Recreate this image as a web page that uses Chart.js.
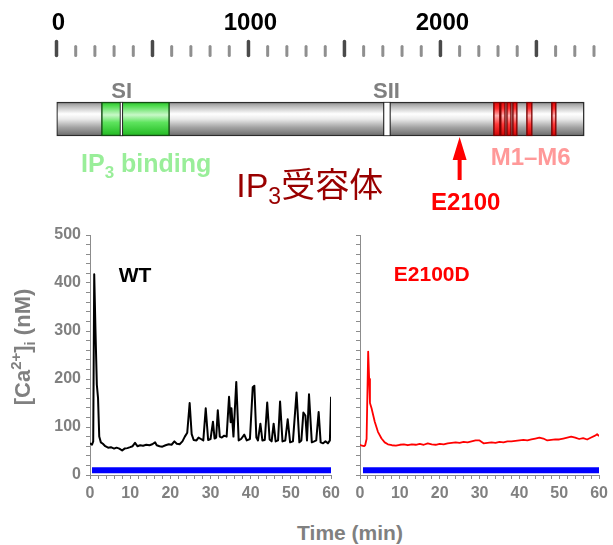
<!DOCTYPE html>
<html>
<head>
<meta charset="utf-8">
<script src="https://cdn.jsdelivr.net/npm/chart.js@4.4.0/dist/chart.umd.min.js"></script>
<style>
  body { margin: 0; background: #fff; }
  #wrap { position: relative; width: 613px; height: 545px; overflow: hidden; }
  canvas { position: absolute; }
  #topChart { left: 0; top: 0; }
  #wtChart { left: 0; top: 220px; }
  #mutChart { left: 345px; top: 220px; }
  #timeTitle {
    position: absolute; left: 250px; width: 200px; top: 521px;
    text-align: center; line-height: 21px; color: #808080;
    font: bold 21px 'Liberation Sans', Arial, sans-serif;
  }
</style>
</head>
<body>
<div id="wrap">
  <canvas id="topChart" width="613" height="215"></canvas>
  <canvas id="wtChart" width="345" height="290"></canvas>
  <canvas id="mutChart" width="268" height="290"></canvas>
  <div id="timeTitle">Time (min)</div>
</div>
<script>
"use strict"

// IP3 receptor map, amino-acid positions
const proteinLength = 2749;
const ip3Binding = [234, 589];
const siteSI = [330, 346];
const siteSII = [1703, 1740];
const tmSegments = [[2276, 2312], [2312, 2339], [2344, 2370], [2375, 2401], [2448, 2479], [2578, 2604]];
const mutationSite = 2100;

// [Ca2+]i traces (time in min, nM)
const wtTime = [0, 0.5, 0.8, 1.05, 1.35, 1.7, 2.0, 2.3, 2.7, 3.2, 3.8, 4.5, 5.2, 6.0, 6.6, 7.3, 8.0, 8.6, 9.3, 10.0,
  10.6, 11.2, 11.8, 12.5, 13.2, 14.0, 14.8, 15.5, 16.2, 16.6, 17.3, 18.0, 18.8, 19.6, 20.3, 21.0, 21.6, 22.3, 23.0, 23.6,
  24.2, 24.8, 25.3, 25.8, 26.5, 27.0, 27.6, 28.2, 28.8, 29.4, 30.0, 30.6, 31.0, 31.4, 31.8, 32.3, 32.8, 33.4, 34.0, 34.6,
  35.0, 35.2, 35.7, 36.4, 37.0, 37.6, 38.4, 39.0, 39.8, 40.5, 40.9, 41.4, 41.8, 42.4, 42.9, 43.5, 44.1, 44.7, 45.2, 45.7,
  46.2, 46.8, 47.3, 47.9, 48.6, 49.2, 49.8, 50.5, 51.4, 52.1, 52.6, 53.1, 53.6, 54.0, 54.5, 55.2, 55.8, 56.3, 56.9, 57.4,
  58.0, 58.6, 59.2, 59.7, 60.0];
const wtCa = [66, 63, 70, 418, 305, 188, 160, 80, 68, 65, 60, 57, 58, 55, 57, 55, 51, 55, 56, 58,
  60, 67, 60, 62, 61, 63, 62, 64, 68, 62, 60, 59, 62, 64, 63, 70, 65, 64, 70, 80,
  88, 150, 85, 73, 72, 78, 75, 72, 139, 73, 75, 111, 76, 78, 135, 80, 78, 82, 80, 163,
  110, 139, 80, 194, 72, 75, 84, 72, 75, 183, 186, 78, 72, 107, 72, 73, 151, 74, 70, 107,
  70, 72, 153, 70, 72, 116, 68, 70, 172, 68, 72, 130, 124, 72, 168, 68, 70, 72, 131, 68,
  66, 70, 66, 72, 163];

const mutTime = [0, 0.5, 1.0, 1.3, 1.65, 2.05, 2.3, 2.5, 2.9, 3.7, 4.5, 5.4, 6.2, 7.0, 8.0,
  9, 10, 11, 12, 13, 14, 15, 16, 17, 18, 19, 20, 21, 22, 23, 24, 25, 26, 27, 28, 29, 30, 31, 32, 33, 34,
  35, 36, 37, 38, 39, 40, 41, 42, 43, 44, 45, 46, 47, 48, 49, 50, 51, 52, 53, 54, 55, 56, 57, 58, 59, 59.5, 60];
const mutCa = [63, 61, 60, 62, 75, 257, 200, 150, 139, 111, 90, 76, 68, 64, 62,
  61, 63, 64, 62, 64, 63, 65, 63, 66, 64, 63, 65, 64, 66, 67, 68, 67, 69, 68, 70, 72, 72, 66, 67, 68, 67,
  69, 68, 70, 70, 71, 72, 73, 72, 74, 76, 78, 76, 72, 73, 74, 74, 76, 78, 80, 78, 75, 77, 74, 78, 82, 85, 81];

// stimulation bar [start, end] in min, and its level in nM
const stimWT = [0.5, 60];
const stimMut = [0.75, 60];
const stimLevel = 10;

const fam = "'Liberation Sans', Arial, 'Noto Sans CJK JP', sans-serif";
Chart.defaults.font.family = fam;

const grayStops = [[0, '#8a8a8a'], [0.12, '#b8b8b8'], [0.35, '#ffffff'], [0.5, '#ebebeb'], [0.75, '#a2a2a2'], [1, '#6a6a6a']];
const greenStops = [[0, '#22c822'], [0.15, '#5ee05e'], [0.38, '#c8f8c8'], [0.6, '#5ee45e'], [1, '#1fb81f']];
const redStops = [[0, '#e00000'], [0.2, '#ff3030'], [0.4, '#ffb0b0'], [0.65, '#ff3a3a'], [1, '#d00000']];

function bandFill(stops) {
  return function (context) {
    const chart = context.chart;
    const area = chart.chartArea;
    if (!area || !isFinite(area.top) || !isFinite(area.bottom)) return stops[2][1];
    const c = (area.top + area.bottom) / 2;
    const g = chart.ctx.createLinearGradient(0, c - 17, 0, c + 17);
    stops.forEach(s => g.addColorStop(s[0], s[1]));
    return g;
  };
}

// draws text made of pieces (for sub/superscripts)
function drawRich(ctx, parts, x, y, align) {
  let width = 0;
  parts.forEach(p => {
    ctx.font = (p.weight || 'bold') + ' ' + p.size + 'px ' + fam;
    p.w = ctx.measureText(p.t).width;
    width += p.w;
  });
  let cx = align === 'center' ? x - width / 2 : x;
  parts.forEach(p => {
    ctx.font = (p.weight || 'bold') + ' ' + p.size + 'px ' + fam;
    ctx.fillText(p.t, cx, y + (p.dy || 0));
    cx += p.w;
  });
}

const rulerMarks = {
  id: 'rulerMarks',
  afterDraw(chart) {
    const ctx = chart.ctx;
    const xs = chart.scales.x;
    ctx.save();
    ctx.lineCap = 'round';
    xs.ticks.forEach(t => {
      const px = xs.getPixelForValue(t.value);
      const major = t.value % 500 === 0;
      ctx.strokeStyle = major ? '#4a4a4a' : '#8f8f8f';
      ctx.lineWidth = major ? 3.5 : 3;
      ctx.beginPath();
      ctx.moveTo(px, major ? 41.5 : 46.5);
      ctx.lineTo(px, 55.5);
      ctx.stroke();
    });
    ctx.restore();
  }
};

const proteinLabels = {
  id: 'proteinLabels',
  afterDraw(chart) {
    const ctx = chart.ctx;
    const xs = chart.scales.x;
    const yc = chart.scales.y.getPixelForValue(0);
    ctx.save();
    ctx.textAlign = 'left';
    ctx.textBaseline = 'alphabetic';

    ctx.fillStyle = '#808080';
    drawRich(ctx, [{t: 'SI', size: 22}], xs.getPixelForValue(340), yc - 21, 'center');
    drawRich(ctx, [{t: 'SII', size: 22}], xs.getPixelForValue(1719), yc - 21, 'center');

    ctx.fillStyle = '#99ee99';
    drawRich(ctx, [{t: 'IP', size: 25}, {t: '3', size: 17, dy: 6}, {t: ' binding', size: 25}],
      xs.getPixelForValue(467), yc + 53, 'center');

    ctx.fillStyle = '#990000';
    drawRich(ctx, [{t: 'IP', size: 34, weight: 'normal'}, {t: '3', size: 23, weight: 'normal', dy: 7},
      {t: '受容体', size: 34, weight: 'normal'}], xs.getPixelForValue(1319), yc + 78, 'center');

    ctx.fillStyle = '#ff9999';
    drawRich(ctx, [{t: 'M1–M6', size: 24}], xs.getPixelForValue(2470), yc + 46, 'center');

    // E2100 arrow
    const ax = xs.getPixelForValue(mutationSite);
    ctx.fillStyle = '#ff0000';
    ctx.beginPath();
    ctx.moveTo(ax, yc + 18);
    ctx.lineTo(ax + 7, yc + 41);
    ctx.lineTo(ax + 2, yc + 41);
    ctx.lineTo(ax + 2, yc + 61);
    ctx.lineTo(ax - 2, yc + 61);
    ctx.lineTo(ax - 2, yc + 41);
    ctx.lineTo(ax - 7, yc + 41);
    ctx.closePath();
    ctx.fill();
    drawRich(ctx, [{t: 'E' + mutationSite, size: 24}], xs.getPixelForValue(2132), yc + 91, 'center');
    ctx.restore();
  }
};

// first dataset is painted last (on top)
new Chart(document.getElementById('topChart'), {
  type: 'bar',
  data: {
    datasets: [
      { data: [{x: siteSI, y: 0}, {x: siteSII, y: 0}], backgroundColor: '#ffffff', borderColor: '#222222', borderWidth: 1.2 },
      { data: tmSegments.map(s => ({x: s, y: 0})), backgroundColor: bandFill(redStops), borderColor: '#7a0000', borderWidth: 1.5 },
      { data: [{x: ip3Binding, y: 0}], backgroundColor: bandFill(greenStops), borderColor: '#124d12', borderWidth: 1.5 },
      { data: [{x: [0, proteinLength], y: 0}], backgroundColor: bandFill(grayStops), borderColor: '#2b2b2b', borderWidth: 1.5 }
    ]
  },
  options: {
    indexAxis: 'y',
    responsive: false,
    animation: false,
    layout: { padding: { left: 56.5, right: 17.5, top: 0, bottom: 34 } },
    plugins: { legend: { display: false }, tooltip: { enabled: false } },
    datasets: { bar: { grouped: false, barThickness: 34, borderSkipped: false } },
    scales: {
      x: {
        type: 'linear', position: 'top', min: 0, max: 2800,
        grid: { display: false, drawTicks: false },
        border: { display: false },
        ticks: {
          stepSize: 100, maxTicksLimit: 100, autoSkip: false, maxRotation: 0, padding: 19, labelOffset: 2,
          color: '#000', font: { size: 24, weight: 'bold' },
          callback: v => v % 1000 === 0 ? String(v) : ''
        },
        afterFit: s => { s.height = 57; }
      },
      y: { type: 'linear', min: -1, max: 1, display: false }
    }
  },
  plugins: [rulerMarks, proteinLabels]
});

// bottom panels
function panelPlugin(label, color, lx, ly, withTitle) {
  return {
    id: 'panelText',
    afterDraw(chart) {
      const ctx = chart.ctx;
      const xs = chart.scales.x, ys = chart.scales.y;
      ctx.save();
      ctx.textBaseline = 'alphabetic';
      ctx.fillStyle = color;
      drawRich(ctx, [{t: label, size: 21}], xs.getPixelForValue(lx), ys.getPixelForValue(ly), 'center');
      if (withTitle) {
        ctx.fillStyle = '#808080';
        ctx.translate(30, (chart.chartArea.top + chart.chartArea.bottom) / 2 - 8);
        ctx.rotate(-Math.PI / 2);
        drawRich(ctx, [{t: '[Ca', size: 22}, {t: '2+', size: 15, dy: -9}, {t: ']', size: 22},
          {t: 'i', size: 15, dy: 5}, {t: ' (nM)', size: 22}], 0, 0, 'center');
      }
      ctx.restore();
    }
  };
}

function tracePanel(id, times, values, color, stim, opts) {
  return new Chart(document.getElementById(id), {
    type: 'line',
    data: {
      datasets: [
        {
          data: [{x: stim[0], y: stimLevel}, {x: stim[1], y: stimLevel}],
          borderColor: '#0000ff', borderWidth: 6, borderCapStyle: 'butt', pointRadius: 0
        },
        {
          data: times.map((t, i) => ({x: t, y: values[i]})),
          borderColor: color, borderWidth: opts.lineWidth, borderJoinStyle: 'round', pointRadius: 0, tension: 0
        }
      ]
    },
    options: {
      responsive: false,
      animation: false,
      layout: { padding: { left: 0, right: opts.padRight, top: 15, bottom: 0 } },
      plugins: { legend: { display: false }, tooltip: { enabled: false } },
      scales: {
        x: {
          type: 'linear', min: 0, max: 60,
          border: { color: '#8c8c8c', width: 1 },
          grid: { drawOnChartArea: false, tickLength: 4, color: '#8c8c8c' },
          ticks: {
            stepSize: 2, maxTicksLimit: 100, autoSkip: false, maxRotation: 0, padding: 5,
            color: '#808080', font: { size: 16, weight: 'bold' },
            callback: v => v % 10 === 0 ? String(v) : ''
          },
          afterFit: s => { s.height = 35; }
        },
        y: {
          type: 'linear', min: 0, max: 500,
          border: { color: '#8c8c8c', width: 1 },
          grid: { drawOnChartArea: false, tickLength: 4, color: '#8c8c8c' },
          ticks: {
            stepSize: 20, maxTicksLimit: 100, autoSkip: false, padding: 5,
            color: '#808080', font: { size: 16, weight: 'bold' },
            callback: v => opts.yLabels && v % 100 === 0 ? String(v) : ''
          },
          afterFit: s => { s.width = opts.yWidth; }
        }
      }
    },
    plugins: [panelPlugin(opts.label, opts.labelColor, opts.lx, opts.ly, opts.yLabels)]
  });
}

tracePanel('wtChart', wtTime, wtCa, '#000000', stimWT,
  { padRight: 13, yWidth: 90, yLabels: true, lineWidth: 2, label: 'WT', labelColor: '#000000', lx: 11.2, ly: 402 });
tracePanel('mutChart', mutTime, mutCa, '#ff0000', stimMut,
  { padRight: 11, yWidth: 15, yLabels: false, lineWidth: 1.8, label: 'E2100D', labelColor: '#ff0000', lx: 18, ly: 404 });
</script>
</body>
</html>
